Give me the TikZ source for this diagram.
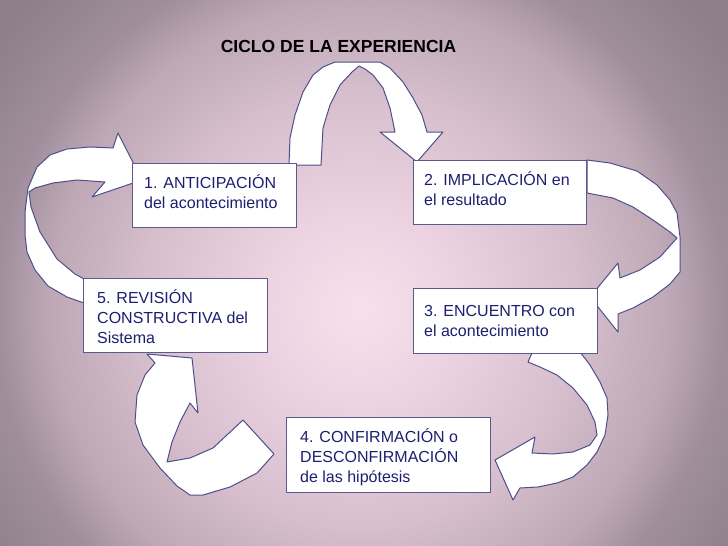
\documentclass[tikz,border=0pt]{standalone}
\usepackage{fontspec}
\setmainfont{Liberation Sans}
\definecolor{txt}{RGB}{30,30,112}
\definecolor{bordc}{RGB}{90,90,142}
\definecolor{arrc}{RGB}{78,78,138}
\definecolor{bga}{RGB}{247,224,236}
\definecolor{bgb}{RGB}{238,212,226}
\definecolor{bgc}{RGB}{214,190,204}
\definecolor{bgd}{RGB}{190,168,182}
\definecolor{bge}{RGB}{160,142,156}
\definecolor{bgf}{RGB}{140,126,138}
\pgfdeclareradialshading{bgshade}{\pgfpoint{0bp}{0bp}}{color(0bp)=(bga); color(5bp)=(bgb); color(12bp)=(bgc); color(17bp)=(bgd); color(20bp)=(bge); color(25bp)=(bgf); color(50bp)=(bgf)}
\tikzset{
  arrowshape/.style={fill=white, draw=arrc, line width=1pt, line join=round},
  boxshape/.style={draw=bordc, line width=1.4pt, fill=white, anchor=north west, inner sep=0pt},
  boxtext/.style={text=txt, font=\fontsize{16}{20}\selectfont, align=left, anchor=base west, inner sep=0pt},
  titletext/.style={text=black, font=\fontsize{17.5}{20}\selectfont\bfseries, inner sep=0pt}
}
\begin{document}
\begin{tikzpicture}[x=1pt,y=-1pt]
\useasboundingbox (0,0) rectangle (728,546);
\begin{scope}
  \clip (0,0) rectangle (728,546);
  \shade[shading=bgshade] (-95,-145) rectangle (815,765);
\end{scope}

% curved arrows
% 1 -> 2 (top)
\filldraw[arrowshape] (289,165) -- (290,138) -- (295,115) -- (303,92) -- (313,75) -- (323,67) -- (335,62)
  -- (380,62) -- (390,68) -- (403,82) -- (413,98) -- (422,115) -- (427,132) -- (443,132)
  -- (417,162) -- (380,132) -- (395,132) -- (390,108) -- (383,88) -- (373,75) -- (365,69)
  -- (359,66) -- (352,72) -- (340,85) -- (330,105) -- (323,128) -- (321,165) -- cycle;
% 2 -> 3 (right)
\filldraw[arrowshape] (587,160) -- (610,163) -- (637,171) -- (657,185) -- (670,200) -- (677,213)
  -- (680,237) -- (680,272) -- (670,284) -- (653,297) -- (633,308) -- (618,314) -- (618,332)
  -- (590,297) -- (618,263) -- (620,278) -- (640,270) -- (660,257) -- (677,238) -- (670,232)
  -- (653,220) -- (633,207) -- (613,198) -- (587,193) -- cycle;
% 3 -> 4 (lower right)
\filldraw[arrowshape] (532,353) -- (580,352) -- (590,365) -- (600,382) -- (607,398) -- (608,415)
  -- (605,435) -- (597,452) -- (587,465) -- (573,477) -- (557,483) -- (538,487) -- (520,488)
  -- (513,500) -- (495,460) -- (535,437) -- (532,453) -- (553,454) -- (573,452) -- (590,445)
  -- (597,435) -- (595,422) -- (587,405) -- (573,388) -- (557,375) -- (540,367) -- (528,362) -- cycle;
% 4 -> 5 (lower left)
\filldraw[arrowshape] (243,420) -- (274,454) -- (257,473) -- (230,487) -- (203,495) -- (190,495)
  -- (177,486) -- (160,468) -- (143,445) -- (135,422) -- (137,395) -- (145,375) -- (155,363)
  -- (147,354) -- (192,358) -- (198,413) -- (190,403) -- (180,422) -- (172,442) -- (167,462)
  -- (190,458) -- (213,448) -- cycle;
% 5 -> 1 (left)
\filldraw[arrowshape] (84,303) -- (67,297) -- (48,286) -- (35,270) -- (27,252) -- (25,235) -- (25,212)
  -- (28,188) -- (37,167) -- (50,155) -- (67,149) -- (90,147) -- (113,148) -- (118,133)
  -- (142,180) -- (92,197) -- (105,182) -- (77,180) -- (53,183) -- (35,188) -- (29,192)
  -- (31,207) -- (40,232) -- (57,259) -- (75,274) -- (84,279) -- cycle;

% boxes
\node[boxshape, minimum width=164pt, minimum height=64pt] (b1) at (132,163) {};
\node[boxshape, minimum width=173pt, minimum height=64pt] (b2) at (413,160) {};
\node[boxshape, minimum width=184pt, minimum height=65pt] (b3) at (413,288) {};
\node[boxshape, minimum width=204pt, minimum height=75pt] (b4) at (286,417) {};
\node[boxshape, minimum width=184pt, minimum height=74pt] (b5) at (83,278) {};

% texts (anchor = baseline of the last line)
\node[boxtext] (t1) at (144,208) {1. ANTICIPACIÓN\\del acontecimiento};
\node[boxtext] (t2) at (424,205) {2. IMPLICACIÓN en\\el resultado};
\node[boxtext] (t3) at (424,336) {3. ENCUENTRO con\\el acontecimiento};
\node[boxtext] (t4) at (300,482) {4. CONFIRMACIÓN o\\DESCONFIRMACIÓN\\de las hipótesis};
\node[boxtext] (t5) at (97,343) {5. REVISIÓN\\CONSTRUCTIVA del\\Sistema};

\node[titletext] (title) at (338.5,46.3) {CICLO DE LA EXPERIENCIA};
\end{tikzpicture}
\end{document}
